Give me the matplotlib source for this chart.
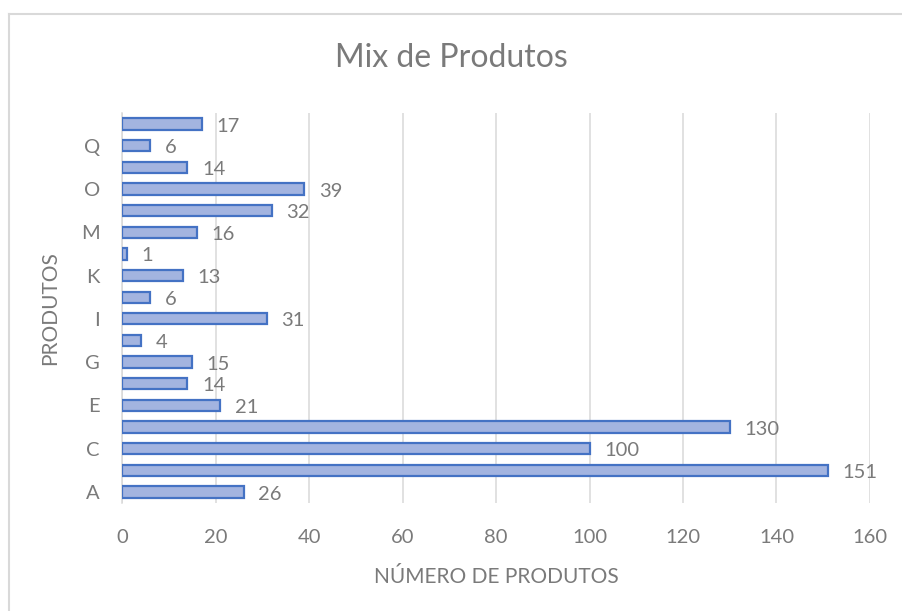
import matplotlib
matplotlib.use("Agg")
import matplotlib.pyplot as plt
from matplotlib.lines import Line2D
import numpy as np

plt.rcParams["font.family"] = ["Lato", "DejaVu Sans"]

produtos = ["A", "B", "C", "D", "E", "F", "G", "H", "I",
            "J", "K", "L", "M", "N", "O", "P", "Q", "R"]
quantidades = [26, 151, 100, 130, 21, 14, 15, 4, 31,
               6, 13, 1, 16, 32, 39, 14, 6, 17]
x_ticks = [0, 20, 40, 60, 80, 100, 120, 140, 160]

text_color = "#7a7a7a"
bar_fill = "#a3b4e0"
bar_edge = "#4472c4"

fig = plt.figure(figsize=(9.02, 6.11), dpi=100)
ax = fig.add_axes([0.1353, 0.1771, 0.8292, 0.6376])

pos = np.arange(len(produtos))
ax.barh(pos, quantidades, height=0.52, color=bar_fill, edgecolor=bar_edge,
        linewidth=1.6, zorder=3)

for y, v in zip(pos, quantidades):
    ax.annotate(str(v), xy=(v, y), xytext=(10.5, -1.5), textcoords="offset points",
                ha="left", va="center", fontsize=14.5, color=text_color)

ax.set_xlim(0, 160)
ax.set_ylim(-0.5, len(produtos) - 0.5)
ax.set_xticks(x_ticks)
ax.set_xticklabels([str(t) for t in x_ticks])
ax.set_yticks(pos[::2])
ax.set_yticklabels(produtos[::2])
ax.tick_params(axis="x", length=0, pad=19, labelsize=14.5, labelcolor=text_color)
ax.tick_params(axis="y", length=0, pad=16, labelsize=14.5, labelcolor=text_color)
ax.grid(axis="x", color="#d9d9d9", linewidth=1.1, zorder=0)
for side in ["top", "right", "bottom"]:
    ax.spines[side].set_visible(False)
ax.spines["left"].set_color("#d9d9d9")
ax.spines["left"].set_linewidth(1.1)

ax.set_xlabel("NÚMERO DE PRODUTOS", fontsize=15, color=text_color, labelpad=15)
ax.set_ylabel("PRODUTOS", fontsize=15, color=text_color, labelpad=15)
fig.text(0.5, 0.905, "Mix de Produtos", ha="center", va="center",
         fontsize=23, color=text_color)

# chart frame (top and left edges visible)
fig.add_artist(Line2D([8.5 / 902, 8.5 / 902], [0, 1 - 14 / 611],
                      transform=fig.transFigure, color="#d9d9d9", linewidth=1.5))
fig.add_artist(Line2D([8.5 / 902, 1], [1 - 14 / 611, 1 - 14 / 611],
                      transform=fig.transFigure, color="#d9d9d9", linewidth=1.5))

fig.savefig("out.png", dpi=100)
